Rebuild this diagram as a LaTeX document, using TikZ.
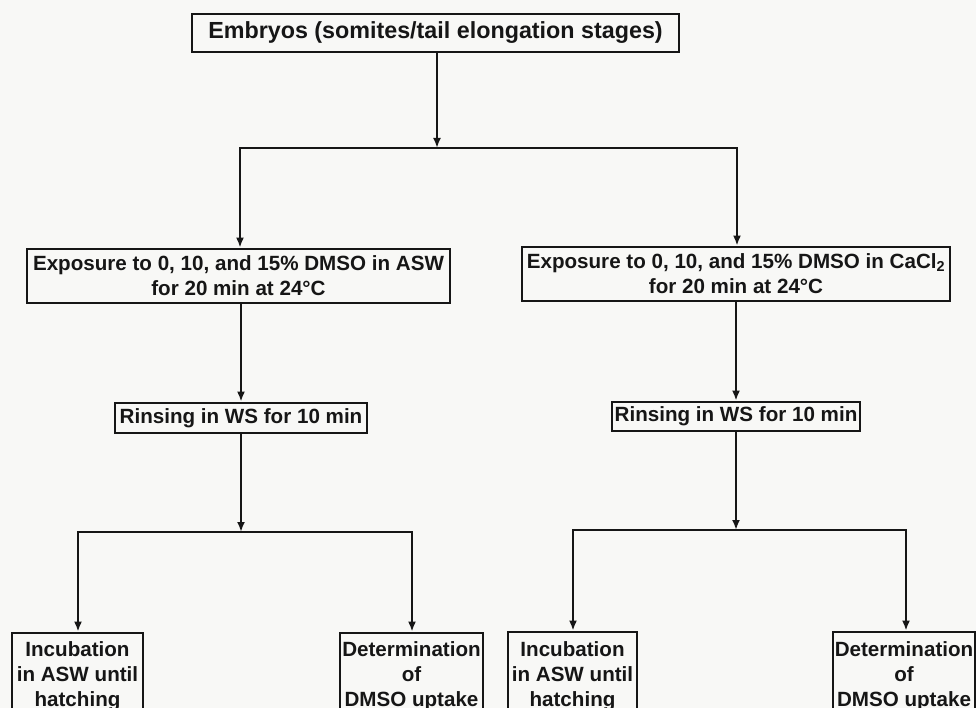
\documentclass[tikz,border=0pt]{standalone}
\usepackage{fontspec}
\setmainfont{Liberation Sans}
\usetikzlibrary{arrows.meta}
\definecolor{ink}{HTML}{161616}
\definecolor{paper}{HTML}{F8F8F6}
\tikzset{
  box/.style={draw=ink, line width=2.8pt, inner sep=0pt, align=center, text=ink,
              font=\fontsize{20.6}{25}\selectfont\bfseries},
  conn/.style={draw=ink, line width=2.1pt},
  arr/.style={conn, -{Latex[length=10pt,width=8pt]}}
}
\begin{document}
\begin{tikzpicture}[x=1pt,y=-1pt]
\useasboundingbox (0,0) rectangle (976,708);
\fill[paper] (0,0) rectangle (976,708);
\clip (0,0) rectangle (976,708);
\node[box, font=\fontsize{23.3}{28}\selectfont\bfseries, minimum width=487pt, minimum height=38pt] (top) at (435.5,33) {Embryos (somites/tail elongation stages)};
\node[box, minimum width=423pt, minimum height=54pt] (expL) at (238.5,276) {Exposure to 0, 10, and 15\% DMSO in ASW\\for 20 min at 24°C};
\node[box, minimum width=428pt, minimum height=54pt] (expR) at (736,274) {Exposure to 0, 10, and 15\% DMSO in CaCl\textsubscript{2}\\for 20 min at 24°C};
\node[box, minimum width=252pt, minimum height=30pt] (rinL) at (241,418) {Rinsing in WS for 10 min};
\node[box, minimum width=248pt, minimum height=29pt] (rinR) at (736,416.5) {Rinsing in WS for 10 min};
\node[box, minimum width=131pt, minimum height=86pt] (incL) at (77.5,676) {Incubation\\in ASW until\\hatching};
\node[box, minimum width=143pt, minimum height=86pt] (detL) at (411.5,676) {Determination\\of\\DMSO uptake};
\node[box, minimum width=129pt, minimum height=88pt] (incR) at (572.5,676) {Incubation\\in ASW until\\hatching};
\node[box, minimum width=142pt, minimum height=88pt] (detR) at (904,676) {Determination\\of\\DMSO uptake};
% junctions
\coordinate (j1) at (437,148);
\coordinate (j1l) at (240,148);
\coordinate (j1r) at (737,148);
\coordinate (j2) at (241,532);
\coordinate (j2l) at (78,532);
\coordinate (j2r) at (412,532);
\coordinate (j3) at (736,530);
\coordinate (j3l) at (573,530);
\coordinate (j3r) at (906,530);
% connectors
\draw[arr] (top.south -| j1) -- (j1);
\draw[conn, line cap=rect] (j1l) -- (j1r);
\draw[arr] (j1l) -- (expL.north -| j1l);
\draw[arr] (j1r) -- (expR.north -| j1r);
\draw[arr] (expL.south -| rinL) -- (rinL.north);
\draw[arr] (expR.south -| rinR) -- (rinR.north);
\draw[arr] (rinL.south) -- (j2);
\draw[conn, line cap=rect] (j2l) -- (j2r);
\draw[arr] (j2l) -- (incL.north -| j2l);
\draw[arr] (j2r) -- (detL.north -| j2r);
\draw[arr] (rinR.south) -- (j3);
\draw[conn, line cap=rect] (j3l) -- (j3r);
\draw[arr] (j3l) -- (incR.north -| j3l);
\draw[arr] (j3r) -- (detR.north -| j3r);
\end{tikzpicture}
\end{document}
